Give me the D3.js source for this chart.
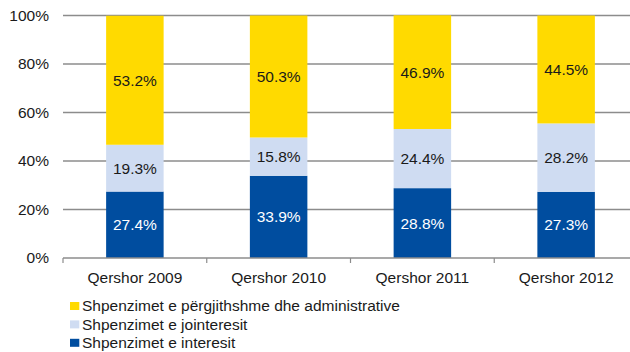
<!DOCTYPE html>
<html>
<head>
<meta charset="utf-8">
<script src="https://cdn.jsdelivr.net/npm/d3@7"></script>
<style>
  html, body { margin: 0; padding: 0; background: #fff; }
  svg { display: block; font-family: "Liberation Sans", Arial, sans-serif; }
</style>
</head>
<body>
<svg id="chart" width="630" height="352"></svg>
<script>
// Expense structure by period (percent of total)
const categories = ["Qershor 2009", "Qershor 2010", "Qershor 2011", "Qershor 2012"];
const interesit = [27.4, 33.9, 28.8, 27.3];
const jointeresit = [19.3, 15.8, 24.4, 28.2];
const administrative = [53.2, 50.3, 46.9, 44.5];
const yTicks = [0, 20, 40, 60, 80, 100];

const seriesNames = [
  "Shpenzimet e interesit",
  "Shpenzimet e jointeresit",
  "Shpenzimet e përgjithshme dhe administrative"
];
const seriesValues = [interesit, jointeresit, administrative];
const colors = ["#004d9f", "#cfdcf2", "#ffda00"];
const labelColors = ["#ffffff", "#1a1a1a", "#1a1a1a"];

const fontSize = 15.5;
const svg = d3.select("#chart");
const plot = { left: 63, right: 638, top: 15.5, bottom: 258 };

const x = d3.scaleBand().domain(categories).range([plot.left, plot.right])
  .paddingInner(0.6).paddingOuter(0.3);
const y = d3.scaleLinear().domain([0, 100]).range([plot.bottom, plot.top]);

// Gridlines
svg.append("g").selectAll("line").data(yTicks.filter(d => d > 0)).join("line")
  .attr("x1", plot.left).attr("x2", plot.right)
  .attr("y1", d => y(d)).attr("y2", d => y(d))
  .attr("stroke", "#8c8c8c").attr("stroke-width", 1.5);

// Y tick labels
svg.append("g").selectAll("text").data(yTicks).join("text")
  .attr("x", 49).attr("y", d => y(d)).attr("dy", "0.35em")
  .attr("text-anchor", "end").attr("font-size", fontSize).attr("fill", "#1a1a1a")
  .text(d => d + "%");

// Stacked data
const rows = categories.map((c, i) => {
  const r = { cat: c };
  seriesNames.forEach((s, k) => r[s] = seriesValues[k][i]);
  return r;
});
const stack = d3.stack().keys(seriesNames)(rows);

const layers = svg.append("g").selectAll("g").data(stack).join("g")
  .attr("fill", (d, k) => colors[k]);
layers.selectAll("rect").data(d => d).join("rect")
  .attr("x", d => x(d.data.cat))
  .attr("width", x.bandwidth())
  .attr("y", d => y(d[1]))
  .attr("height", d => y(d[0]) - y(d[1]));

// Value labels
const labels = svg.append("g").selectAll("g").data(stack).join("g")
  .attr("fill", (d, k) => labelColors[k]);
labels.selectAll("text").data(d => d).join("text")
  .attr("x", d => x(d.data.cat) + x.bandwidth() / 2)
  .attr("y", d => (y(d[0]) + y(d[1])) / 2)
  .attr("dy", "0.35em")
  .attr("text-anchor", "middle").attr("font-size", fontSize)
  .text(d => (d[1] - d[0]).toFixed(1) + "%");

// Category axis
svg.append("line").attr("x1", plot.left).attr("x2", plot.right)
  .attr("y1", plot.bottom).attr("y2", plot.bottom)
  .attr("stroke", "#8c8c8c").attr("stroke-width", 1.5);
const step = x.step();
svg.append("g").selectAll("line").data(d3.range(categories.length + 1)).join("line")
  .attr("x1", i => plot.left + i * step).attr("x2", i => plot.left + i * step)
  .attr("y1", plot.bottom).attr("y2", plot.bottom + 5)
  .attr("stroke", "#8c8c8c").attr("stroke-width", 1.2);
svg.append("g").selectAll("text").data(categories).join("text")
  .attr("x", d => x(d) + x.bandwidth() / 2).attr("y", 283)
  .attr("text-anchor", "middle").attr("font-size", fontSize).attr("fill", "#1a1a1a")
  .text(d => d);

// Legend (top to bottom: administrative, jointeresit, interesit)
const legendOrder = [2, 1, 0];
const lg = svg.append("g").selectAll("g").data(legendOrder).join("g")
  .attr("transform", (k, i) => `translate(70, ${306 + i * 18.4})`);
lg.append("rect").attr("x", 0).attr("y", -4).attr("width", 9.3).attr("height", 8)
  .attr("fill", k => colors[k]);
lg.append("text").attr("x", 12).attr("y", 0).attr("dy", "0.35em")
  .attr("font-size", fontSize).attr("fill", "#1a1a1a")
  .text(k => seriesNames[k]);
</script>
</body>
</html>
